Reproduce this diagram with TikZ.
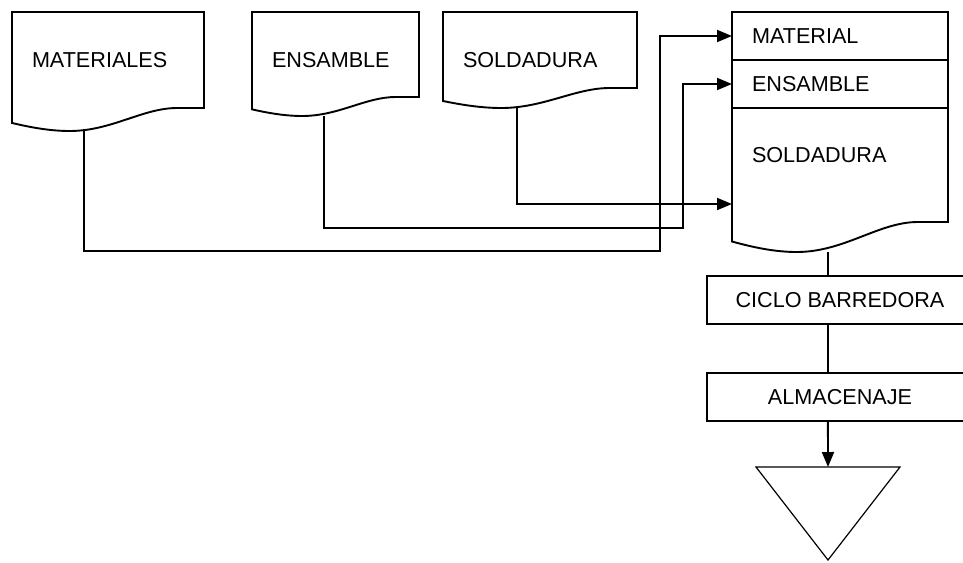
\documentclass[tikz,border=0pt]{standalone}
\usepackage{fontspec}
\setmainfont{Liberation Sans}
\usetikzlibrary{arrows.meta, positioning, calc}

% outline of a document symbol round a node: node, wave depth, place of the outgoing line
\newcommand{\docline}[3]{%
  \draw[line]
    ($(#1.south west)+(0,0.65*#2)$) -- (#1.north west) -- (#1.north east) -- (#1.south east)
    -- ($(#1.south west)!0.86!(#1.south east)$)
    .. controls ($(#1.south west)!0.68!(#1.south east)$) and ($(#1.south west)!0.52!(#1.south east)+(0,#2)$)
    .. ($(#1.south west)!0.3!(#1.south east)+(0,#2)$)
    .. controls ($(#1.south west)!0.2!(#1.south east)+(0,#2)$) and ($(#1.south west)!0.1!(#1.south east)+(0,0.85*#2)$)
    .. ($(#1.south west)+(0,0.65*#2)$) -- cycle;
  \coordinate (#1-tail) at ($(#1.south west)!#3!(#1.south east)+(0,#2)$);
}

\begin{document}
\begin{tikzpicture}[
    x=1pt, y=-1pt,
    line/.style={draw=black, line width=1.9pt},
    flow/.style={line, -{Triangle[length=15pt, width=12pt]}},
    doc/.style={rectangle, inner xsep=20pt, inner ysep=0pt, outer sep=0pt, align=left, anchor=north west, font=\fontsize{21.6}{25}\selectfont},
    row/.style={doc, draw, line width=1.9pt, text width=176pt, minimum height=48pt},
    box/.style={rectangle, draw, line width=1.9pt, inner sep=0pt, outer sep=0pt, minimum width=266pt, minimum height=48pt, font=\fontsize{21.6}{25}\selectfont}
]
\useasboundingbox (0,0) rectangle (963,562);
\clip (0,0) rectangle (963,562);

% Documents
\node[doc, text width=152pt, minimum height=96pt] (mat) at (12,12) {MATERIALES};
\node[doc, text width=127pt, minimum height=85pt, text height=27pt] (ens) at (252,12) {ENSAMBLE};
\node[doc, text width=154pt, minimum height=76pt, text height=36pt] (sol) at (443,12) {SOLDADURA};

\node[row] (rmat) at (732,12) {MATERIAL};
\node[row, below=0pt of rmat] (rens) {ENSAMBLE};
\node[doc, text width=176pt, minimum height=114pt, text depth=20pt, below=0pt of rens] (rsol) {SOLDADURA};

\docline{mat}{23}{0.375}
\docline{ens}{19}{0.43}
\docline{sol}{20}{0.38}
\docline{rsol}{30}{0.444}

% Process boxes
\node[box, anchor=north west] (cyc) at (707,276) {CICLO BARREDORA};
\node[box, below=49pt of cyc] (alm) {ALMACENAJE};

% Storage
\coordinate (store) at (828,467);
\draw[line width=1.2pt] ($(store)+(-72,0)$) -- ($(store)+(72,0)$) -- ($(store)+(0,93)$) -- cycle;

% Arrows
\coordinate (jmat) at (660,251);
\coordinate (jens) at (683,228);
\draw[flow] (mat-tail) |- (jmat) |- (rmat.west);
\draw[flow] (ens-tail) |- (jens) |- (rens.west);
\draw[flow] (sol-tail) |- ($(rsol.south west)+(0,-18)$);

\draw[line] (rsol-tail) -- (rsol-tail |- cyc.north);
\draw[line] (rsol-tail |- cyc.south) -- (rsol-tail |- alm.north);
\draw[flow] (rsol-tail |- alm.south) -- (store);

\end{tikzpicture}
\end{document}
